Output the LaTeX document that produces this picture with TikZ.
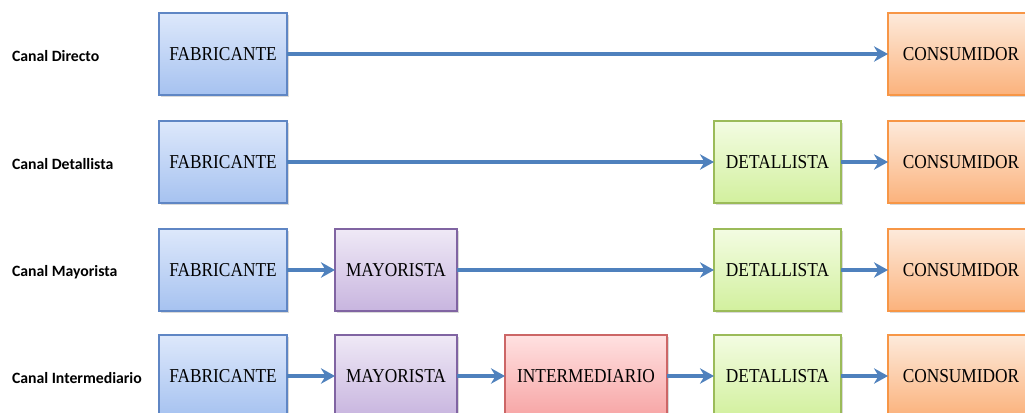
\documentclass[tikz,border=0pt]{standalone}
\usepackage{fontspec}
\setmainfont{Liberation Serif}
\newfontfamily\boxfont[FakeStretch=0.88]{Liberation Serif}
\newfontfamily\canalfont{Carlito}
\usetikzlibrary{arrows.meta,shadows}

\definecolor{arrowblue}{HTML}{4F81BD}
\definecolor{fabline}{HTML}{5F86C4}
\definecolor{fabtop}{HTML}{DDE8FB}
\definecolor{fabbot}{HTML}{A6C2F0}
\definecolor{mayline}{HTML}{8064A2}
\definecolor{maytop}{HTML}{EFE9F6}
\definecolor{maybot}{HTML}{C8B5DF}
\definecolor{intline}{HTML}{CC6666}
\definecolor{inttop}{HTML}{FFE1E1}
\definecolor{intbot}{HTML}{F7A5A5}
\definecolor{detline}{HTML}{9BBB59}
\definecolor{dettop}{HTML}{F3FCE2}
\definecolor{detbot}{HTML}{D2F09E}
\definecolor{conline}{HTML}{F79646}
\definecolor{contop}{HTML}{FDEADB}
\definecolor{conbot}{HTML}{FBB27C}

\begin{document}
\begin{tikzpicture}[
  every node/.style={outer sep=0pt},
  box/.style={draw, line width=0.8pt, minimum height=2.05cm, font=\boxfont\fontsize{14}{16}\selectfont,
    drop shadow={shadow xshift=0.05cm, shadow yshift=-0.05cm, opacity=0.3, fill=gray}},
  fab/.style={box, minimum width=3.2cm, draw=fabline, top color=fabtop, bottom color=fabbot},
  may/.style={box, minimum width=3.05cm, draw=mayline, top color=maytop, bottom color=maybot},
  inter/.style={box, minimum width=4.05cm, draw=intline, top color=inttop, bottom color=intbot},
  det/.style={box, minimum width=3.175cm, draw=detline, top color=dettop, bottom color=detbot},
  con/.style={box, minimum width=3.65cm, draw=conline, top color=contop, bottom color=conbot},
  canal/.style={anchor=west, inner sep=0pt, font=\canalfont\bfseries\fontsize{11.2}{13}\selectfont},
  flow/.style={-{Stealth[length=10pt,width=11pt]}, draw=arrowblue, line width=2.2pt}
]
\clip (0,0) rectangle (25.625,10.3);

% Canal Directo
\node[canal] (l1) at (0.3,8.9) {Canal Directo};
\node[fab] (f1) at (5.575,8.95) {FABRICANTE};
\node[con] (c1) at (24.025,8.95) {CONSUMIDOR};

% Canal Detallista
\node[canal] (l2) at (0.3,6.2) {Canal Detallista};
\node[fab] (f2) at (5.575,6.25) {FABRICANTE};
\node[det] (d2) at (19.4375,6.25) {DETALLISTA};
\node[con] (c2) at (24.025,6.25) {CONSUMIDOR};

% Canal Mayorista
\node[canal] (l3) at (0.3,3.5) {Canal Mayorista};
\node[fab] (f3) at (5.575,3.55) {FABRICANTE};
\node[may] (m3) at (9.9,3.55) {MAYORISTA};
\node[det] (d3) at (19.4375,3.55) {DETALLISTA};
\node[con] (c3) at (24.025,3.55) {CONSUMIDOR};

% Canal Intermediario
\node[canal] (l4) at (0.3,0.85) {Canal Intermediario};
\node[fab] (f4) at (5.575,0.9) {FABRICANTE};
\node[may] (m4) at (9.9,0.9) {MAYORISTA};
\node[inter] (i4) at (14.65,0.9) {INTERMEDIARIO};
\node[det] (d4) at (19.4375,0.9) {DETALLISTA};
\node[con] (c4) at (24.025,0.9) {CONSUMIDOR};

\draw[flow] (f1) -- (c1);
\draw[flow] (f2) -- (d2);
\draw[flow] (d2) -- (c2);
\draw[flow] (f3) -- (m3);
\draw[flow] (m3) -- (d3);
\draw[flow] (d3) -- (c3);
\draw[flow] (f4) -- (m4);
\draw[flow] (m4) -- (i4);
\draw[flow] (i4) -- (d4);
\draw[flow] (d4) -- (c4);
\end{tikzpicture}
\end{document}
